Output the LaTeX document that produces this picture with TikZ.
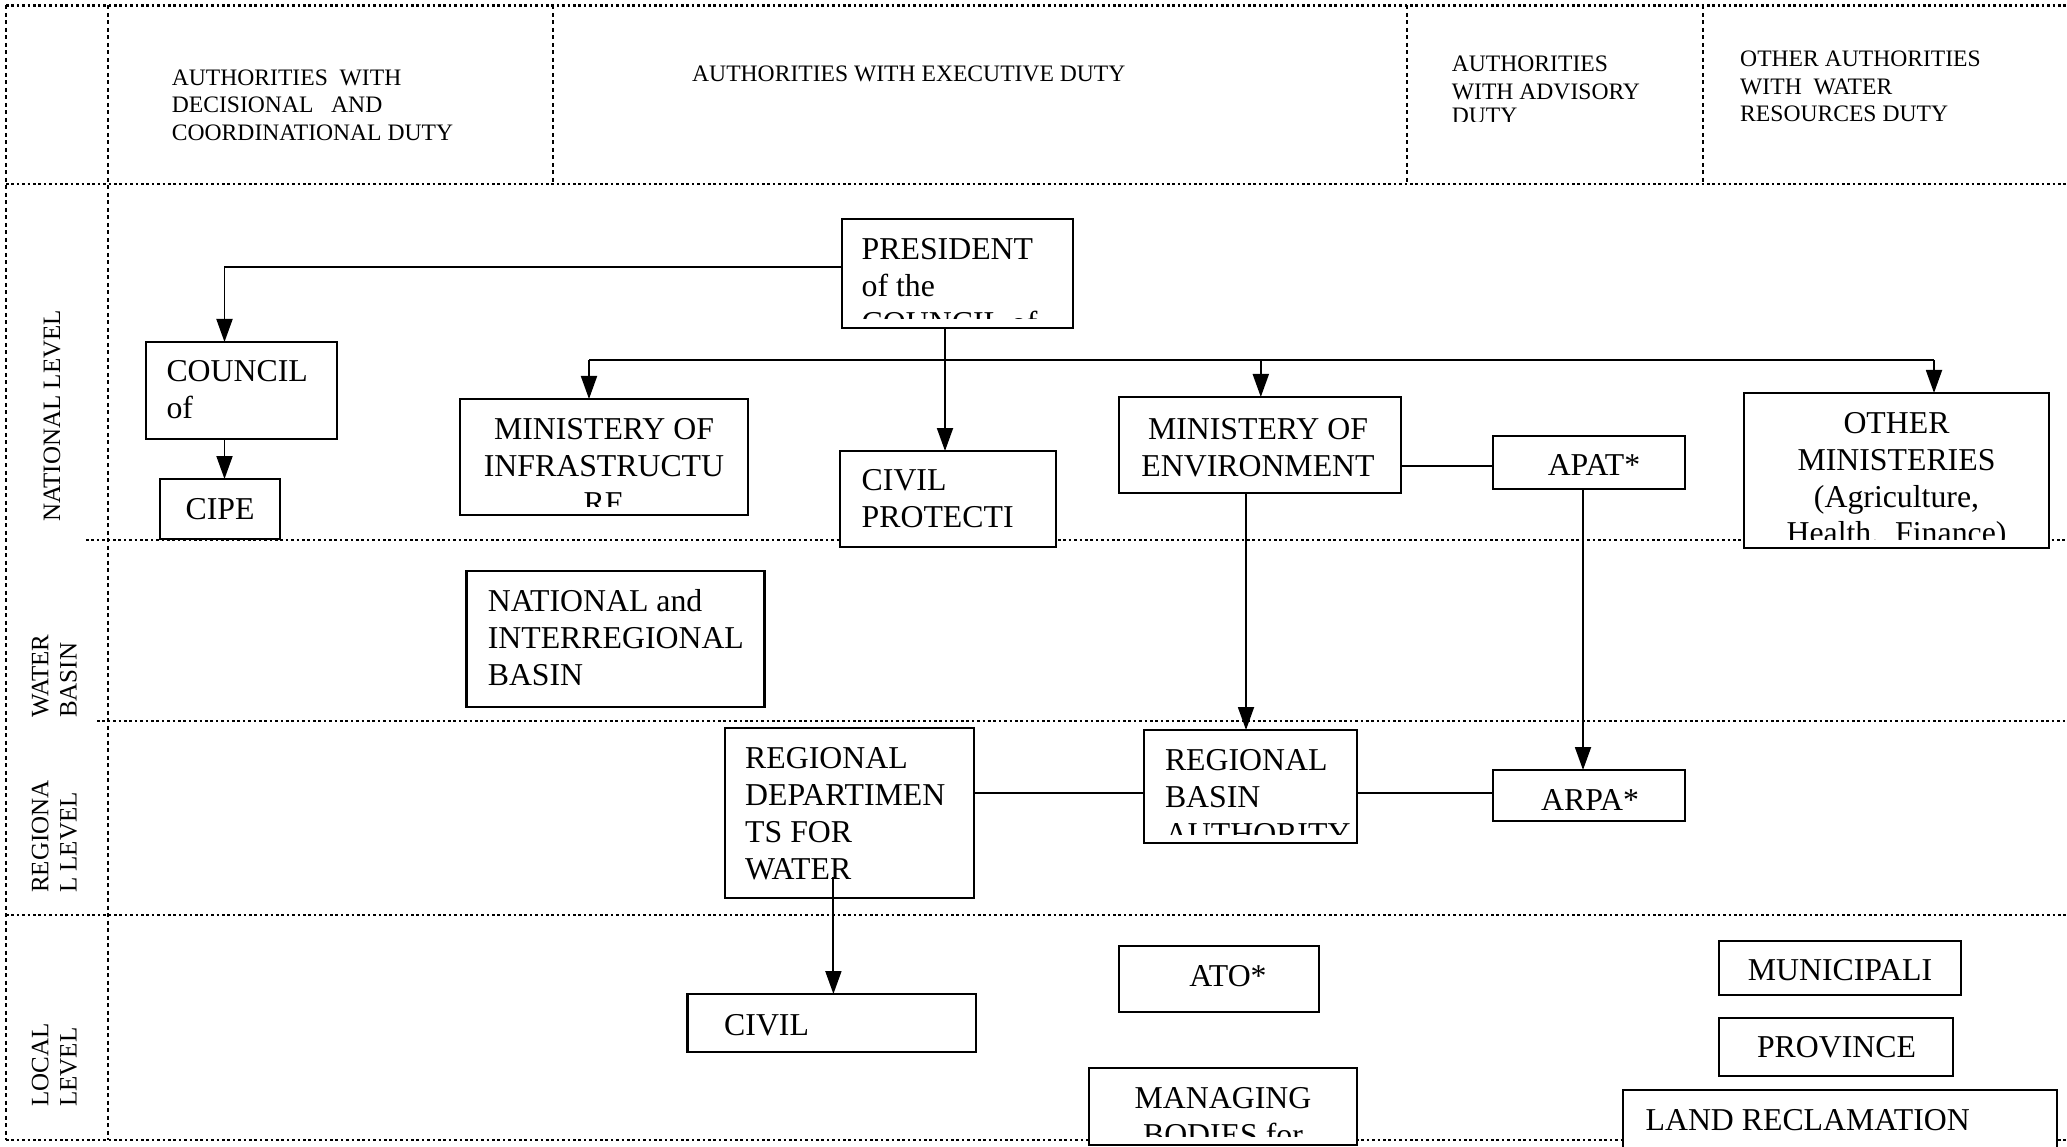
\documentclass[tikz,border=0pt]{standalone}
\usepackage{fontspec}
\setmainfont{Liberation Serif}
\usetikzlibrary{arrows.meta}
\newcommand{\TL}[1]{\begin{tabular}[t]{@{}l@{}}#1\end{tabular}}
\newcommand{\TC}[1]{\begin{tabular}[t]{@{}c@{}}#1\end{tabular}}
\newcommand{\bx}[5]{\node[box, minimum width=#4pt, minimum height=#5pt] (#1) at (#2,#3) {};}
\newcommand{\bt}[5]{\begin{scope}\clip ([yshift=9pt]#1.south west) rectangle (#1.north east);\node[txt, anchor=#2] (#1-t) at (#3,#4) {#5};\end{scope}}
\begin{document}
\begin{tikzpicture}[x=1pt,y=-1pt,
  grid/.style={line width=2.2pt, dash pattern=on 2.6pt off 2.8pt},
  vgrid/.style={line width=2.2pt, dash pattern=on 4pt off 3.5pt},
  box/.style={draw, fill=white, line width=2.3pt, inner sep=0pt, outer sep=0pt, rectangle},
  conn/.style={line width=1.9pt},
  arr/.style={conn, -{Triangle[length=23pt,width=16pt]}},
  txt/.style={inner sep=0pt, font=\fontsize{31.8pt}{37pt}\selectfont},
  hdr/.style={inner sep=0pt, anchor=base west, font=\fontsize{23.6pt}{27.3pt}\selectfont},
  lvl/.style={inner sep=0pt, rotate=90, anchor=base west, font=\fontsize{25pt}{28.4pt}\selectfont}]
\path[use as bounding box] (0,0) rectangle (2067,1147);
\clip (0,0) rectangle (2067,1147);

% grid
\draw[grid] (6,5.5) -- (2067,5.5);
\draw[grid] (6,184) -- (2067,184);
\draw[grid] (86,540) -- (2067,540);
\draw[grid] (97,721) -- (2067,721);
\draw[grid] (6,915) -- (2067,915);
\draw[grid] (6,1140) -- (2067,1140);
\draw[vgrid] (6,5.5) -- (6,1140);
\draw[vgrid] (108,5.5) -- (108,1140);
\draw[vgrid] (553,5.5) -- (553,184);
\draw[vgrid] (1407,5.5) -- (1407,184);
\draw[vgrid] (1703,5.5) -- (1703,184);

% headers
\node[hdr] (h1) at (171.7,85.7) {\TL{AUTHORITIES~~WITH\\DECISIONAL~~~AND\\COORDINATIONAL DUTY}};
\node[hdr] (h2) at (692,81.7) {AUTHORITIES WITH EXECUTIVE DUTY};
\begin{scope}
\clip (1409,0) rectangle (1703,121.5);
\node[hdr] (h3) at (1451.7,71.3) {AUTHORITIES};
\node[hdr] (h3b) at (1451.7,99.7) {WITH ADVISORY};
\node[hdr] (h3c) at (1451.7,124) {DUTY};
\end{scope}
\node[hdr] (h4) at (1740,67) {\TL{OTHER AUTHORITIES\\WITH~~WATER\\RESOURCES DUTY}};

% level labels
\node[lvl] (l1) at (60,522) {NATIONAL LEVEL};
\node[lvl] (l2) at (48.3,718) {\TL{WATER\\BASIN}};
\node[lvl] (l3) at (48.3,893) {\TL{REGIONA\\L LEVEL}};
\node[lvl] (l4) at (48.3,1107) {\TL{LOCAL\\LEVEL}};

% boxes
\bx{pres}{957.5}{273.5}{231}{109}
\bx{council}{241.5}{390.5}{191}{97}
\bx{cipe}{220}{509}{120}{60}
\bx{minfra}{604}{457}{288}{116}
\bx{civprot}{948}{499}{216}{96}
\bx{minenv}{1260}{445}{282}{96}
\bx{apat}{1589}{462.5}{192}{53}
\bx{othermin}{1896.5}{470.5}{305}{155}
\bx{natbasin}{615.5}{639}{298}{136}
\bx{regdept}{849.5}{813}{249}{170}
\bx{regbasin}{1250.5}{786.5}{213}{113}
\bx{arpa}{1589}{795.5}{192}{51}
\bx{civil}{831.75}{1023}{288.5}{58}
\bx{ato}{1219}{979}{200}{66}
\bx{managing}{1223}{1106.5}{268}{77}
\bx{munic}{1840}{968}{242}{54}
\bx{province}{1836}{1047}{234}{58}
\bx{landrec}{1840}{1125}{434}{70}

% box texts
\bt{pres}{base west}{861.5}{260}{\TL{PRESIDENT\\of the\\COUNCIL of}}
\bt{council}{base west}{166.3}{381.7}{\TL{COUNCIL\\of}}
\bt{cipe}{base}{220}{519.3}{CIPE}
\bt{minfra}{base}{604}{439.3}{\TC{MINISTERY OF\\INFRASTRUCTU\\RE}}
\bt{civprot}{base west}{861.5}{490.7}{\TL{CIVIL\\PROTECTI}}
\bt{minenv}{base}{1258}{439}{\TC{MINISTERY OF\\ENVIRONMENT}}
\bt{apat}{base}{1594}{475}{APAT*}
\bt{othermin}{base}{1896.5}{433}{\TC{OTHER\\MINISTERIES\\(Agriculture,\\Health,~~Finance)}}
\bt{natbasin}{base west}{487.6}{611.7}{\TL{NATIONAL and\\INTERREGIONAL\\BASIN}}
\bt{regdept}{base west}{745}{768.3}{\TL{REGIONAL\\DEPARTIMEN\\TS FOR\\WATER}}
\bt{regbasin}{base west}{1164.8}{770}{\TL{REGIONAL\\BASIN\\AUTHORITY}}
\bt{arpa}{base}{1590}{810}{ARPA*}
\bt{civil}{base west}{724}{1035}{CIVIL}
\bt{ato}{base}{1228}{986.7}{ATO*}
\bt{managing}{base}{1223}{1108.3}{\TC{MANAGING\\BODIES for}}
\bt{munic}{base}{1840}{980.7}{MUNICIPALI}
\bt{province}{base}{1836.5}{1057.7}{PROVINCE}
\bt{landrec}{base west}{1645.4}{1130.7}{LAND RECLAMATION}

% connectors
\draw[arr] ([yshift=6.8pt]pres.west) -| ([xshift=-17pt]council.north);
\draw[arr] ([xshift=-17pt]council.south) -- ([xshift=-17pt]council.south |- cipe.north);
\coordinate (bL) at (589,360);
\coordinate (bM) at (1260.8,360);
\coordinate (bR) at (1934,360);
\draw[conn] (bL) -- (bR);
\draw[arr] (bL) -- (bL |- minfra.north);
\draw[arr] (bM) -- (bM |- minenv.north);
\draw[arr] (bR) -- (bR |- othermin.north);
\draw[arr] ([xshift=-12.5pt]pres.south) -- ([xshift=-12.5pt]pres.south |- civprot.north);
\draw[conn] ([yshift=-21pt]minenv.east) -- ([yshift=-21pt]minenv.east -| apat.west);
\draw[arr] ([xshift=-14pt]minenv.south) -- ([xshift=-14pt]minenv.south |- regbasin.north);
\draw[arr] ([xshift=-6pt]apat.south) -- ([xshift=-6pt]apat.south |- arpa.north);
\draw[conn] ([yshift=20pt]regdept.east) -- ([yshift=20pt]regdept.east -| regbasin.west);
\draw[conn] ([yshift=-6.5pt]regbasin.east) -- ([yshift=-6.5pt]regbasin.east -| arpa.west);
\coordinate (rdw) at (833.4,877);
\draw[arr] (rdw) -- (rdw |- civil.north);
\end{tikzpicture}
\end{document}
